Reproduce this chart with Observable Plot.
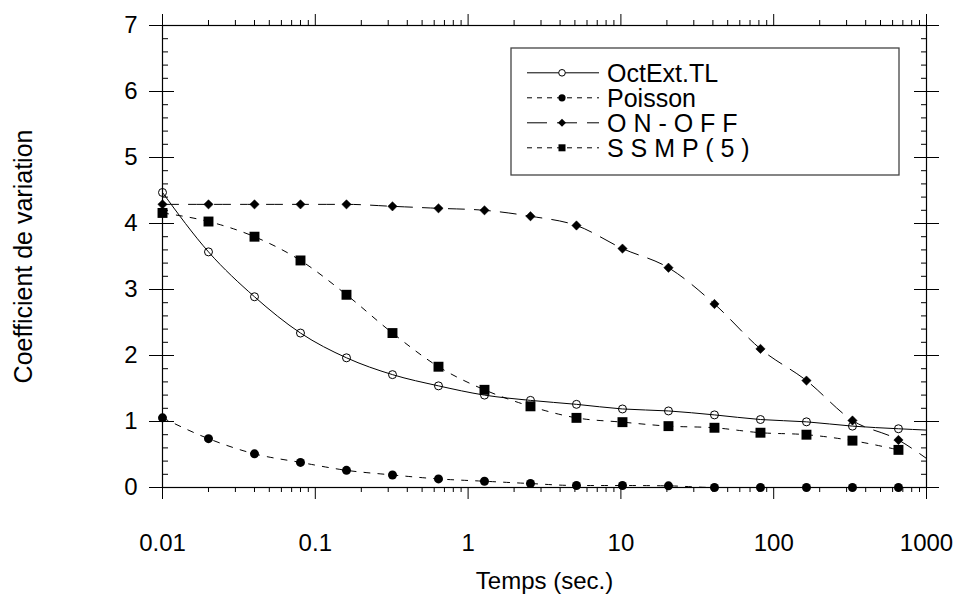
<!DOCTYPE html>
<html>
<head>
<meta charset="utf-8">
<script src="https://cdn.jsdelivr.net/npm/d3@7"></script>
<script src="https://cdn.jsdelivr.net/npm/@observablehq/plot@0.6"></script>
<style>
  body { margin: 0; background: #fff; }
  #chart { width: 953px; height: 596px; }
</style>
</head>
<body>
<div id="chart"></div>
<script>
// ---- data ----
const times = [0.01, 0.02, 0.04, 0.08, 0.16, 0.32, 0.64, 1.28, 2.56, 5.12, 10.24, 20.48, 40.96, 81.92, 163.84, 327.68, 655.36];
const octExt  = [4.47, 3.57, 2.89, 2.34, 1.965, 1.71, 1.54, 1.40, 1.32, 1.26, 1.19, 1.16, 1.10, 1.03, 0.995, 0.93, 0.89];
const poisson = [1.055, 0.74, 0.51, 0.38, 0.26, 0.19, 0.13, 0.095, 0.06, 0.03, 0.03, 0.025, 0.0, 0.0, 0.0, 0.0, 0.0];
const onOff   = [4.29, 4.29, 4.29, 4.29, 4.29, 4.26, 4.23, 4.20, 4.11, 3.97, 3.62, 3.33, 2.78, 2.10, 1.62, 1.015, 0.72];
const ssmp    = [4.16, 4.03, 3.80, 3.44, 2.92, 2.34, 1.83, 1.48, 1.23, 1.055, 0.99, 0.93, 0.905, 0.83, 0.80, 0.71, 0.57];
// line ends drawn to the right edge (no marker)
const tailTime = 1000;
const octExtTail = 0.87;
const onOffTail = 0.44;

const seriesNames = ["OctExt.TL", "Poisson", "O N - O F F", "S S M P ( 5 )"];
const xTickValues = [0.01, 0.1, 1, 10, 100, 1000];
const xTickLabels = ["0.01", "0.1", "1", "10", "100", "1000"];
const yTickValues = [0, 1, 2, 3, 4, 5, 6, 7];
const yTickLabels = ["0", "1", "2", "3", "4", "5", "6", "7"];
const xLabel = "Temps (sec.)";
const yLabel = "Coefficient de variation";

// minor tick positions
const xMinor = [];
for (let k = -2; k <= 2; k++) for (let m = 2; m <= 9; m++) xMinor.push(+(m * Math.pow(10, k)).toPrecision(3));
const yMinor = [];
for (let i = 0; i <= 35; i++) if (i % 5 !== 0) yMinor.push(i / 5);

const FONT = "'Liberation Sans', Arial, Helvetica, sans-serif";

const rows = (vals) => times.map((t, i) => ({t, v: vals[i]}));
const octRows = rows(octExt);
const poiRows = rows(poisson);
const onRows = rows(onOff);
const ssRows = rows(ssmp);
const octLine = octRows.concat([{t: tailTime, v: octExtTail}]);
const onLine = onRows.concat([{t: tailTime, v: onOffTail}]);

const blank = () => "";
const xFmt = (d) => {
  const i = xTickValues.findIndex(v => Math.abs(Math.log10(v) - Math.log10(d)) < 1e-6);
  return i >= 0 ? xTickLabels[i] : "";
};
const yFmt = (d) => {
  const i = yTickValues.findIndex(v => Math.abs(v - d) < 1e-6);
  return i >= 0 ? yTickLabels[i] : "";
};
const xLabelRows = xTickValues.map((v, i) => ({t: v, label: xTickLabels[i]}));

const svg = Plot.plot({
  width: 953,
  height: 596,
  marginLeft: 162,
  marginRight: 27,
  marginTop: 25,
  marginBottom: 109,
  style: {fontFamily: FONT, fontSize: "24px", color: "black", background: "white", overflow: "visible"},
  x: {type: "log", domain: [0.01, 1000]},
  y: {domain: [0, 7]},
  marks: [
    // axes
    Plot.axisY({anchor: "left", ticks: yTickValues, tickSize: 13, tickPadding: 12, fontSize: 24, tickFormat: yFmt, label: null}),
    Plot.axisY({anchor: "left", ticks: yTickValues, tickSize: 12, dx: 12, tickFormat: blank, label: null}),
    Plot.axisY({anchor: "left", ticks: yMinor, tickSize: 6, dx: 6, tickFormat: blank, label: null}),
    Plot.axisY({anchor: "right", ticks: yTickValues, tickSize: 25, dx: -13, tickFormat: blank, label: null}),
    Plot.axisY({anchor: "right", ticks: yMinor, tickSize: 6, dx: -6, tickFormat: blank, label: null}),
    Plot.axisX({anchor: "bottom", ticks: xTickValues, tickSize: 12, tickFormat: blank, label: null}),
    Plot.axisX({anchor: "bottom", ticks: xMinor, tickSize: 5, tickFormat: blank, label: null}),
    Plot.axisX({anchor: "top", ticks: xTickValues, tickSize: 12, tickFormat: blank, label: null}),
    Plot.axisX({anchor: "top", ticks: xMinor, tickSize: 6, tickFormat: blank, label: null}),
    // x tick labels (placed below the axis through the x scale)
    Plot.text(xLabelRows, {x: "t", text: "label", frameAnchor: "bottom", dy: 46, lineAnchor: "top", textAnchor: "middle", fontSize: 24, fill: "black"}),
    Plot.frame({stroke: "black", strokeWidth: 1.2}),
    // titles
    Plot.text([xLabel], {text: d => d, frameAnchor: "bottom", dy: 101, lineAnchor: "bottom", textAnchor: "middle", fontSize: 24, fill: "black"}),
    Plot.text([yLabel], {text: d => d, frameAnchor: "left", dx: -139, rotate: -90, textAnchor: "middle", lineAnchor: "middle", fontSize: 25, fill: "black"}),
    // lines
    Plot.line(octLine, {x: "t", y: "v", stroke: "black", strokeWidth: 1, curve: "monotone-x"}),
    Plot.line(poiRows, {x: "t", y: "v", stroke: "black", strokeWidth: 1, strokeDasharray: "6,8", curve: "monotone-x"}),
    Plot.line(onLine, {x: "t", y: "v", stroke: "black", strokeWidth: 1, strokeDasharray: "16,10", curve: "monotone-x"}),
    Plot.line(ssRows, {x: "t", y: "v", stroke: "black", strokeWidth: 1, strokeDasharray: "6,8", curve: "monotone-x"}),
    // markers
    Plot.dot(octRows, {x: "t", y: "v", r: 4, stroke: "black", fill: "none", strokeWidth: 1}),
    Plot.dot(poiRows, {x: "t", y: "v", r: 4.5, fill: "black", stroke: "none"}),
    Plot.dot(onRows, {x: "t", y: "v", symbol: "diamond2", r: 4.2, fill: "black", stroke: "black", strokeWidth: 0.5}),
    Plot.dot(ssRows, {x: "t", y: "v", symbol: "square", r: 5.6, fill: "black", stroke: "none"})
  ]
});

// ---- legend box (inside the plotting area, as in the reference) ----
const lg = d3.select(svg).append("g").attr("class", "legend");
lg.append("rect")
  .attr("x", 511).attr("y", 48).attr("width", 388).attr("height", 127)
  .attr("fill", "white").attr("stroke", "#444").attr("stroke-width", 1.3);
const dashes = [null, "5,5", "20,10", "5,5"];
seriesNames.forEach((name, i) => {
  const y = 72.8 + 25 * i;
  const g = lg.append("g").attr("transform", `translate(0,${y})`);
  g.append("line").attr("x1", 527).attr("x2", 599).attr("y1", 0).attr("y2", 0)
    .attr("stroke", "black").attr("stroke-width", 1)
    .attr("stroke-dasharray", dashes[i]);
  const cx = 562;
  if (i === 0) {
    g.append("circle").attr("cx", cx).attr("cy", 0).attr("r", 3.3).attr("fill", "white").attr("stroke", "black");
  } else if (i === 1) {
    g.append("circle").attr("cx", cx).attr("cy", 0).attr("r", 3.6).attr("fill", "black");
  } else if (i === 2) {
    g.append("path").attr("d", `M${cx},-4L${cx + 4},0L${cx},4L${cx - 4},0Z`).attr("fill", "black");
  } else {
    g.append("rect").attr("x", cx - 3.5).attr("y", -3.5).attr("width", 7).attr("height", 7).attr("fill", "black");
  }
  g.append("text").attr("x", 607).attr("y", 0).attr("dy", "0.35em")
    .attr("text-anchor", "start")
    .attr("font-size", 25).attr("font-family", FONT).attr("fill", "black")
    .text(name);
});

document.getElementById("chart").appendChild(svg);
</script>
</body>
</html>
